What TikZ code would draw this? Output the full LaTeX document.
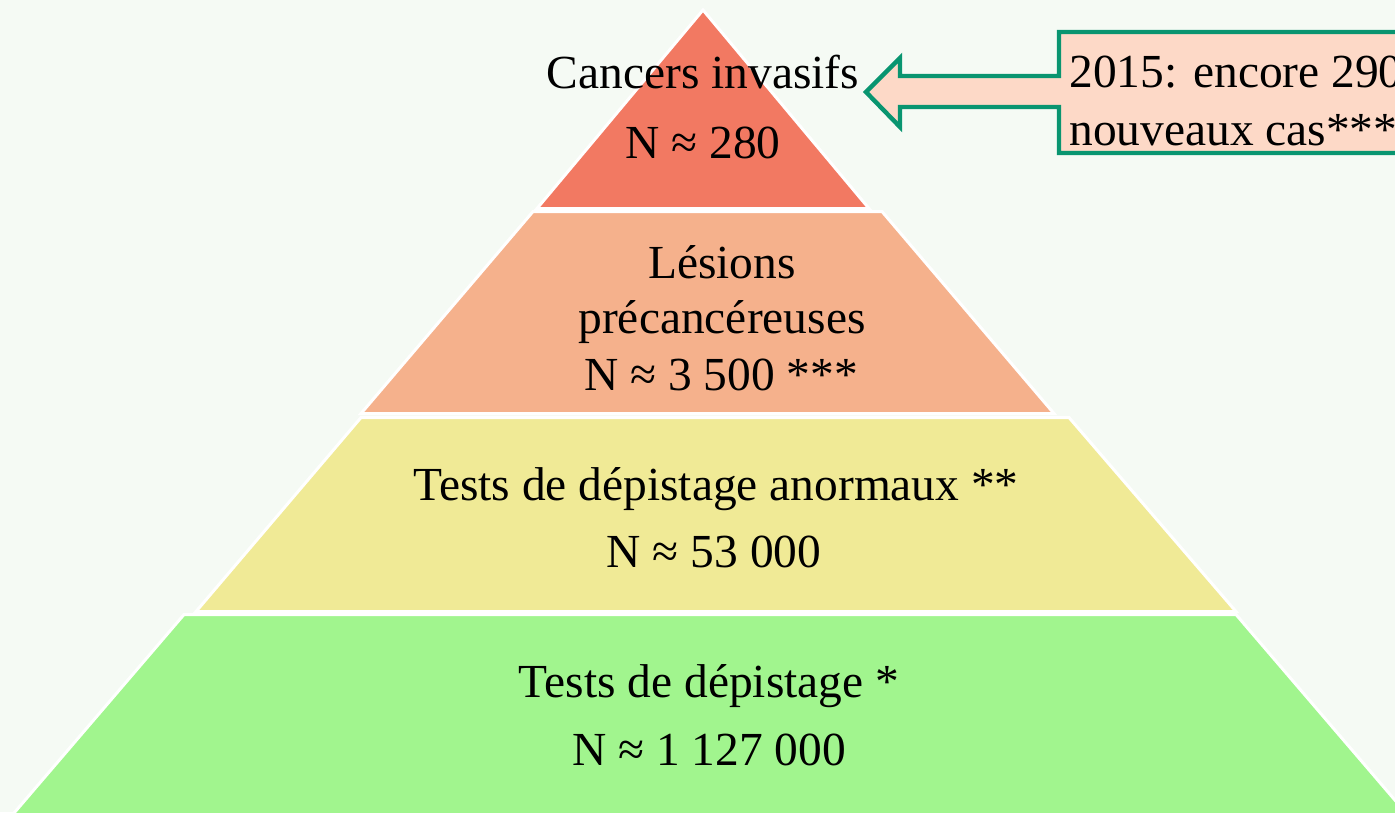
\documentclass[tikz,border=0pt]{standalone}
\usepackage{fontspec}
\setmainfont{Liberation Serif}
\usepackage{tikz}
\usetikzlibrary{positioning}
\definecolor{bgcol}{RGB}{245,250,244}
\definecolor{topred}{RGB}{242,121,98}
\definecolor{lesorange}{RGB}{245,177,140}
\definecolor{testyellow}{RGB}{240,234,150}
\definecolor{testgreen}{RGB}{161,245,142}
\definecolor{notefill}{RGB}{253,217,199}
\definecolor{noteline}{RGB}{9,149,112}

\begin{document}
\begin{tikzpicture}[
			x=0.02cm, y=-0.02cm,
			font=\fontsize{27}{32}\selectfont,
			layer/.style={draw=white, line width=1.7pt},
			txt/.style={anchor=base, inner sep=0pt},
			note/.style={draw=noteline, fill=notefill, line width=2.5pt, line join=miter}]
			
			\useasboundingbox (0,0) rectangle (1395,812);
			\clip (0,0) rectangle (1395,812);
			\fill[bgcol] (0,0) rectangle (1395,812);
			
			% pyramide
			\filldraw[layer, fill=topred] (703,10) -- (869,208.5) -- (537,208.5) -- cycle;
			\filldraw[layer, fill=lesorange] (533,211.5) -- (882,211.5) -- (1054,413.5) -- (361,413.5) -- cycle;
			\filldraw[layer, fill=testyellow] (361,417.5) -- (1069,417.5) -- (1236,611.5) -- (196,611.5) -- cycle;
			\filldraw[layer, fill=testgreen] (184,614.5) -- (1236,614.5) -- (1412,820) -- (8,820) -- cycle;
			
			\node[txt] (inv) at (703,88) {Cancers invasifs};
			\node[txt] (invn) at (703,158) {N ≈ 280};
			\node[txt] (les) at (722,278) {Lésions};
			\node[txt] (lesb) at (722,333) {précancéreuses};
			\node[txt] (lesn) at (721,390) {N ≈ 3 500 ***};
			\node[txt] (anorm) at (716,500) {Tests de dépistage anormaux **};
			\node[txt] (anormn) at (714,567) {N ≈ 53 000};
			\node[txt] (dep) at (709,697) {Tests de dépistage *};
			\node[txt] (depn) at (709,765) {N ≈ 1 127 000};
			
			% encadre
			\draw[note] (1059,32) -- (1430,32) -- (1430,153) -- (1059,153) -- (1059,107) -- (900,107)
				-- (900,127) -- (866,92) -- (900,58) -- (900,76) -- (1059,76) -- cycle;
			\node[txt, anchor=base west] (note1) at (1069,87) {2015: encore 290};
			\node[txt, anchor=base west] (note2) at (1069,145) {nouveaux cas****};
		\end{tikzpicture}
\end{document}
